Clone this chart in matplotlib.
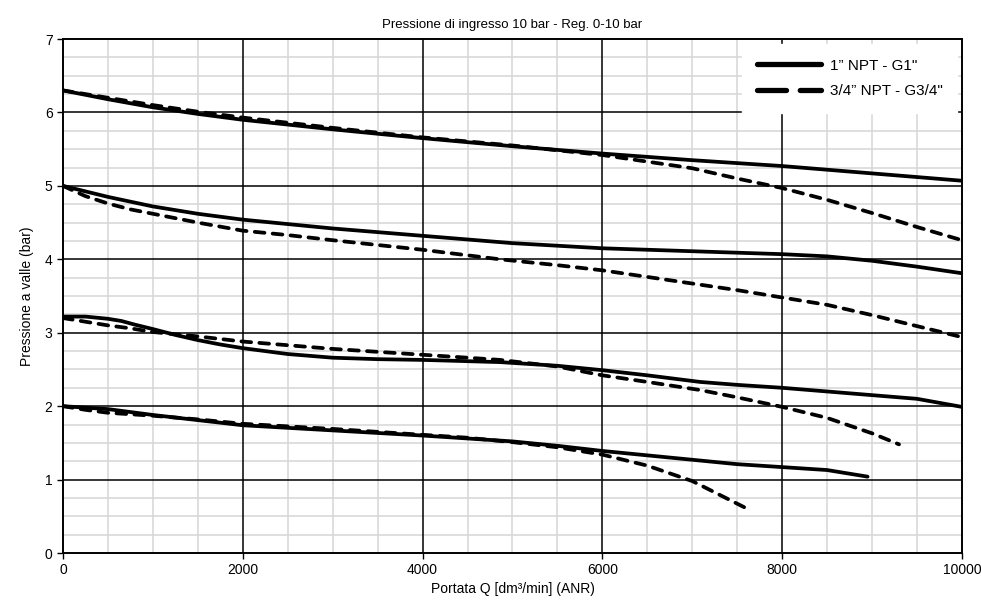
import numpy as np
import matplotlib.pyplot as plt
from matplotlib.ticker import MultipleLocator

plt.rcParams['font.family'] = ['Liberation Sans', 'DejaVu Sans']

# portata Q (dm3/min) e pressione a valle (bar)
q1_a = [0, 500, 1000, 1500, 2000, 3000, 4000, 5000, 6000, 7000, 8000, 9000, 10000]
p1_a = [6.30, 6.18, 6.07, 5.98, 5.90, 5.77, 5.65, 5.54, 5.44, 5.35, 5.27, 5.17, 5.07]
q1_b = [0, 500, 1000, 1500, 2000, 3000, 4000, 5000, 6000, 6500, 7000, 7500, 8000,
        8500, 9000, 9500, 10000]
p1_b = [6.30, 6.20, 6.10, 6.01, 5.93, 5.79, 5.66, 5.55, 5.42, 5.33, 5.24, 5.10, 4.97,
        4.81, 4.63, 4.44, 4.26]

q2_a = [0, 500, 1000, 1500, 2000, 2500, 3000, 4000, 5000, 6000, 7000, 8000, 8500,
        9000, 9500, 10000]
p2_a = [5.00, 4.85, 4.72, 4.62, 4.54, 4.48, 4.42, 4.32, 4.22, 4.15, 4.11, 4.07, 4.04,
        3.98, 3.90, 3.81]
q2_b = [0, 250, 500, 750, 1000, 1500, 2000, 2500, 3000, 4000, 4860, 5500, 6000, 6500,
        7000, 7500, 8000, 8500, 9000, 9500, 10000]
p2_b = [5.00, 4.86, 4.76, 4.68, 4.62, 4.50, 4.39, 4.33, 4.26, 4.13, 4.00, 3.92, 3.85,
        3.76, 3.67, 3.58, 3.48, 3.38, 3.24, 3.09, 2.94]

q3_a = [0, 250, 500, 650, 800, 1000, 1250, 1500, 1750, 2000, 2500, 3000, 3500, 4000,
        4860, 5500, 6000, 6500, 7086, 7500, 8000, 8500, 9000, 9500, 10000]
p3_a = [3.22, 3.22, 3.19, 3.16, 3.11, 3.05, 2.97, 2.90, 2.84, 2.79, 2.71, 2.66, 2.64,
        2.63, 2.60, 2.55, 2.49, 2.42, 2.33, 2.29, 2.25, 2.20, 2.15, 2.10, 1.99]
q3_b = [0, 250, 500, 750, 1000, 1500, 2000, 2500, 3000, 3500, 4000, 4500, 4860, 5500,
        6000, 6500, 7086, 7500, 8000, 8500, 9000, 9300]
p3_b = [3.20, 3.15, 3.10, 3.06, 3.01, 2.95, 2.88, 2.83, 2.78, 2.74, 2.70, 2.66, 2.63,
        2.54, 2.42, 2.33, 2.22, 2.12, 1.99, 1.84, 1.63, 1.48]

q4_a = [0, 500, 1000, 1500, 2000, 3000, 4000, 5000, 5500, 6000, 6500, 7000, 7500,
        8000, 8500, 8950]
p4_a = [2.00, 1.96, 1.88, 1.81, 1.74, 1.67, 1.60, 1.52, 1.46, 1.39, 1.33, 1.27, 1.21,
        1.17, 1.13, 1.04]
q4_b = [0, 250, 500, 1000, 1500, 2000, 3000, 4000, 4500, 5000, 5500, 6000, 6500,
        7000, 7600]
p4_b = [2.00, 1.95, 1.91, 1.87, 1.82, 1.76, 1.69, 1.61, 1.57, 1.51, 1.44, 1.34, 1.19,
        0.98, 0.61]

solid = [(q1_a, p1_a), (q2_a, p2_a), (q3_a, p3_a), (q4_a, p4_a)]
dashed = [(q1_b, p1_b), (q2_b, p2_b), (q3_b, p3_b), (q4_b, p4_b)]
labels = ['1\u201d NPT - G1"', '3/4\u201d NPT - G3/4"']

fig = plt.figure(figsize=(9.81, 6.04), dpi=100)
ax = fig.add_axes([0.0642, 0.0844, 0.9164, 0.851])

for i, (x, y) in enumerate(solid):
    ax.plot(x, y, color='black', lw=2.7, solid_capstyle='round',
            solid_joinstyle='round', label=labels[0] if i == 0 else None, zorder=3)
for i, (x, y) in enumerate(dashed):
    ax.plot(x, y, color='black', lw=2.7, dashes=(2.6, 2.2), dash_capstyle='round',
            label=labels[1] if i == 0 else None, zorder=3)

ax.set_xlim(0, 10000)
ax.set_ylim(0, 7)
ax.xaxis.set_major_locator(MultipleLocator(2000))
ax.xaxis.set_minor_locator(MultipleLocator(500))
ax.yaxis.set_major_locator(MultipleLocator(1))
ax.yaxis.set_minor_locator(MultipleLocator(0.25))
ax.set_axisbelow(True)
ax.grid(which='minor', color='#d6d6d6', lw=1.1)
for xv in ax.get_xticks():
    if 0 < xv < 10000:
        ax.axvline(xv, color='black', lw=1.1, zorder=1)
for yv in ax.get_yticks():
    if 0 < yv < 7:
        ax.axhline(yv, color='black', lw=1.1, zorder=1)
ax.tick_params(which='minor', length=0)
ax.tick_params(which='major', length=4, width=1, labelsize=10, colors='black')
for s in ax.spines.values():
    s.set_linewidth(1.4)

ax.set_title('Pressione di ingresso 10 bar - Reg. 0-10 bar', fontsize=9.5, pad=8)
ax.set_xlabel('Portata Q [dm\u00b3/min] (ANR)', fontsize=10, labelpad=3)
ax.set_ylabel('Pressione a valle (bar)', fontsize=10, labelpad=8)

leg = ax.legend(loc='upper right', bbox_to_anchor=(0.995, 0.99), fontsize=11,
                frameon=True, fancybox=False, handlelength=4.2, handletextpad=0.6,
                borderpad=0.95, labelspacing=0.75, borderaxespad=0.0)
leg.get_frame().set_edgecolor('white')
leg.get_frame().set_alpha(1)
hl = leg.get_lines()
for h in hl:
    h.set_linewidth(3.8)
hl[1].set_linestyle((0, (5.5, 2.6)))
hl[1].set_dash_capstyle('round')
hl[0].set_solid_capstyle('round')

fig.savefig('out.png', dpi=100)
